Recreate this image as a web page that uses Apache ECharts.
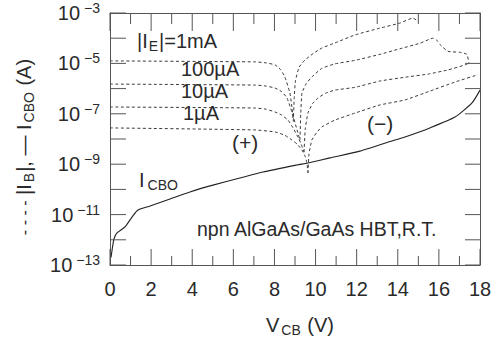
<!DOCTYPE html>
<html>
<head>
<meta charset="utf-8">
<script src="https://cdn.jsdelivr.net/npm/echarts@6/dist/echarts.min.js"></script>
<style>html,body{margin:0;padding:0;background:#fff;}#c{width:495px;height:341px;}#err{position:absolute;left:0;top:328px;font:9px sans-serif;color:#c00;white-space:nowrap;}</style>
</head>
<body>
<div id="c"></div>
<div id="err"></div>
<script>
window.addEventListener('error', function (e) {
  document.getElementById('err').textContent += ' ' + (e.message || e);
});

// Values are log10 of current in A, V_CB in volts
const vCbo = [0.05, 0.12, 0.2, 0.34, 0.73, 1.07, 1.36, 1.95, 2.92, 3.89, 5.01, 6.32, 7.44, 9.10, 9.63, 10.70, 12.16, 13.86, 14.35, 15.56, 16.78, 17.61, 18.0];
const iCbo = [-12.7, -12.3, -11.95, -11.73, -11.49, -11.10, -10.82, -10.66, -10.38, -10.10, -9.83, -9.55, -9.31, -9.03, -8.95, -8.75, -8.48, -8.04, -7.92, -7.56, -7.13, -6.57, -6.06];

const v1mAPos = [0, 7.05, 7.6, 8.03, 8.3, 8.51, 8.75, 8.85, 8.92];
const i1mAPos = [-4.90, -4.94, -4.98, -5.06, -5.25, -5.54, -6.17, -6.73, -7.30];
const v1mANeg = [8.92, 8.96, 9.02, 9.2, 9.48, 9.9, 10.31, 10.94, 11.92, 13.13, 14.1, 14.74, 14.9, 15.03];
const i1mANeg = [-7.30, -6.4, -5.7, -5.15, -4.87, -4.6, -4.39, -4.19, -3.87, -3.60, -3.40, -3.20, -3.28, -3.36];

const v100uAPos = [0, 7.05, 7.6, 8.03, 8.35, 8.61, 8.85, 9.10, 9.24];
const i100uAPos = [-5.82, -5.86, -5.9, -5.98, -6.12, -6.37, -6.93, -7.64, -8.04];
const v100uANeg = [9.24, 9.28, 9.34, 9.55, 9.82, 10.3, 10.94, 11.92, 13.13, 14.1, 15.08, 15.71, 15.9, 16.05, 16.44, 17.02, 17.36, 17.46];
const i100uANeg = [-8.04, -7.0, -6.17, -5.8, -5.54, -5.2, -5.02, -4.88, -4.64, -4.42, -4.20, -4.00, -4.08, -4.25, -4.52, -4.56, -4.64, -4.98];

const v10uAPos = [0, 7.05, 7.6, 8.03, 8.35, 8.66, 8.9, 9.14, 9.30, 9.44];
const i10uAPos = [-6.73, -6.77, -6.82, -6.93, -7.05, -7.25, -7.55, -7.92, -8.2, -8.52];
const v10uANeg = [9.44, 9.5, 9.63, 9.85, 10.12, 10.5, 10.94, 11.92, 13.13, 14.35, 15.5, 16.44, 17.27, 17.51];
const i10uANeg = [-8.52, -7.6, -6.97, -6.6, -6.37, -6.18, -6.06, -5.95, -5.7, -5.55, -5.42, -5.26, -5.06, -4.98];

const v1uAPos = [0, 7.05, 8.03, 8.5, 8.85, 9.1, 9.34, 9.5, 9.58, 9.63];
const i1uAPos = [-7.56, -7.64, -7.72, -7.85, -8.04, -8.2, -8.44, -8.7, -8.95, -9.35];
const v1uANeg = [9.63, 9.68, 9.82, 10.05, 10.31, 10.94, 11.92, 13.13, 14.35, 15.56, 16.78, 17.9];
const i1uANeg = [-9.35, -8.6, -8.04, -7.75, -7.52, -7.25, -6.97, -6.65, -6.45, -6.1, -5.74, -5.45];

// axis ticks
const xMajorTicks = [0, 2, 4, 6, 8, 10, 12, 14, 16, 18];
const xMinorTicks = [1, 3, 5, 7, 9, 11, 13, 15, 17];
const yTicks = [-13, -12, -11, -10, -9, -8, -7, -6, -5, -4, -3];
const yLabelExps = [-3, -5, -7, -9, -11, -13];

const X_MIN = 0, X_MAX = 18, Y_MIN = -13, Y_MAX = -3;

const FONT = 'Liberation Sans';
const TXT = '#2a2a2a';
const LINE = '#3a3a3a';
const AX = '#555';

function pairs(xs, ys) { return xs.map((x, i) => [x, ys[i]]); }

function dashed(xs, ys) {
  return { type: 'line', data: pairs(xs, ys), showSymbol: false, symbol: 'none', smooth: 0.15,
    lineStyle: { color: LINE, width: 1, type: [3, 2.5] }, z: 3, silent: true };
}

// tick / frame items: [x, y, kind]
// kind 0 bottom major, 1 bottom minor, 2 top major, 3 top minor, 4 left, 5 right
const tickData = [].concat(
  xMajorTicks.map(v => [v, Y_MIN, 0]),
  xMinorTicks.map(v => [v, Y_MIN, 1]),
  xMajorTicks.map(v => [v, Y_MAX, 2]),
  xMinorTicks.map(v => [v, Y_MAX, 3]),
  yTicks.map(v => [X_MIN, v, 4]),
  yTicks.map(v => [X_MAX, v, 5])
);
const TICK_LEN = [16, 9, 18, 11, 16, 15];

function renderTick(params, api) {
  const kind = api.value(2);
  const p = api.coord([api.value(0), api.value(1)]);
  const L = TICK_LEN[kind];
  let shape;
  if (kind <= 1) shape = { x1: p[0], y1: p[1], x2: p[0], y2: p[1] - L };
  else if (kind <= 3) shape = { x1: p[0], y1: p[1], x2: p[0], y2: p[1] + L };
  else if (kind === 4) shape = { x1: p[0], y1: p[1], x2: p[0] + L, y2: p[1] };
  else shape = { x1: p[0], y1: p[1], x2: p[0] - L, y2: p[1] };
  return { type: 'line', shape: shape, style: { stroke: AX, lineWidth: 1 } };
}

const chart = echarts.init(document.getElementById('c'), null, { renderer: 'svg' });

const series = [
  { type: 'line', data: pairs(vCbo, iCbo), showSymbol: false, symbol: 'none', smooth: 0.2,
    lineStyle: { color: '#222', width: 1.1 }, z: 4, silent: true },
  dashed(v1mAPos, i1mAPos), dashed(v1mANeg, i1mANeg),
  dashed(v100uAPos, i100uAPos), dashed(v100uANeg, i100uANeg),
  dashed(v10uAPos, i10uAPos), dashed(v10uANeg, i10uANeg),
  dashed(v1uAPos, i1uAPos), dashed(v1uANeg, i1uANeg),
  { type: 'custom', renderItem: renderTick, data: tickData, clip: false, z: 6, silent: true,
    xAxisIndex: 0, yAxisIndex: 0, dimensions: ['x', 'y', 'kind'], encode: { x: 'x', y: 'y' } }
];

const subRich = {
  m: { fontFamily: FONT, fontSize: 20, fill: TXT },
  d: { fontFamily: FONT, fontSize: 16, fill: TXT },
  s: { fontFamily: FONT, fontSize: 14, fill: TXT, padding: [10, 1, 0, 2] }
};

function frameAxis(pos, isX) {
  return { type: 'value', min: isX ? X_MIN : Y_MIN, max: isX ? X_MAX : Y_MAX, interval: isX ? 2 : 1, position: pos,
    axisLine: { show: true, onZero: false, lineStyle: { color: AX, width: 1 } },
    axisTick: { show: false }, splitLine: { show: false }, axisLabel: { show: false } };
}

const option = {
  animation: false,
  grid: { left: 110, right: 15, top: 13, bottom: 76 },
  xAxis: [
    { type: 'value', min: X_MIN, max: X_MAX, interval: 2,
      axisLine: { show: true, onZero: false, lineStyle: { color: AX, width: 1 } },
      axisTick: { show: false },
      splitLine: { show: false },
      axisLabel: { fontFamily: FONT, fontSize: 20, color: TXT, margin: 14 } },
    frameAxis('top', true)
  ],
  yAxis: [
    { type: 'value', min: Y_MIN, max: Y_MAX, interval: 1,
      axisLine: { show: true, onZero: false, lineStyle: { color: AX, width: 1 } },
      axisTick: { show: false },
      splitLine: { show: false },
      axisLabel: { margin: 10,
        formatter: v => yLabelExps.indexOf(Math.round(v)) >= 0 ? '{b|10}{s|−' + Math.abs(Math.round(v)) + '}' : '',
        rich: {
          b: { fontFamily: FONT, fontSize: 20, color: TXT },
          s: { fontFamily: FONT, fontSize: 14, color: TXT, padding: [0, 0, 10, 4] } } } },
    frameAxis('right', false)
  ],
  graphic: [
    { type: 'text', x: 300, y: 313, style: { text: '{m|V}{s|CB}{m| (V)}', align: 'center', verticalAlign: 'top', rich: subRich } },
    { type: 'text', x: 24, y: 147, rotation: Math.PI / 2,
      style: { text: '{d|- - - -}{m| |I}{s|B}{m||, — I}{s|CBO}{m| (A)}', align: 'center', verticalAlign: 'middle', rich: subRich } },
    { type: 'text', left: 137, top: 31, style: { text: '{m||I}{s|E}{m||=1mA}', rich: {
        m: { fontFamily: FONT, fontSize: 20, fill: TXT },
        s: { fontFamily: FONT, fontSize: 14, fill: TXT, padding: [9, 1, 0, 1] } } } },
    { type: 'text', left: 181, top: 59, style: { text: '100µA', fontFamily: FONT, fontSize: 20, fill: TXT } },
    { type: 'text', left: 181, top: 81, style: { text: '10µA', fontFamily: FONT, fontSize: 20, fill: TXT } },
    { type: 'text', left: 183, top: 103, style: { text: '1µA', fontFamily: FONT, fontSize: 20, fill: TXT } },
    { type: 'text', left: 232, top: 132, style: { text: '(+)', fontFamily: FONT, fontSize: 21, fill: TXT } },
    { type: 'text', left: 367, top: 113, style: { text: '(−)', fontFamily: FONT, fontSize: 21, fill: TXT } },
    { type: 'text', left: 139, top: 170, style: { text: '{m|I}{s|CBO}', rich: {
        m: { fontFamily: FONT, fontSize: 20, fill: TXT },
        s: { fontFamily: FONT, fontSize: 14, fill: TXT, padding: [10, 0, 0, 3] } } } },
    { type: 'text', left: 197, top: 219, style: { text: 'npn AlGaAs/GaAs HBT,R.T.', fontFamily: FONT, fontSize: 19.5, fill: TXT } }
  ],
  series: series
};
try {
  chart.setOption(option);
} catch (e) {
  document.getElementById('err').textContent += ' ' + (e && e.message ? e.message : e);
}
</script>
</body>
</html>
